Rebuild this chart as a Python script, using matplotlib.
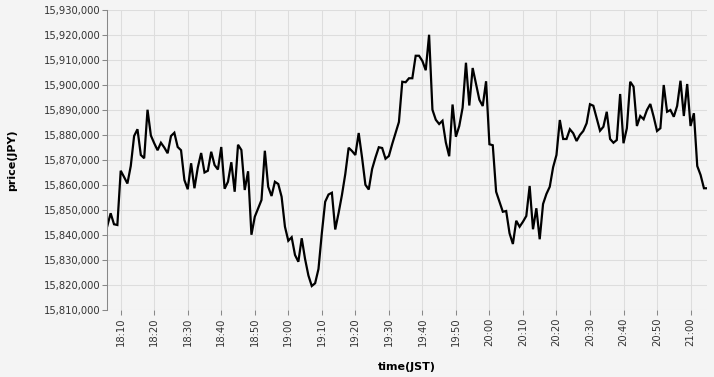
import matplotlib
matplotlib.use('Agg')
import matplotlib.pyplot as plt
import matplotlib.dates as mdates
import matplotlib.ticker as mticker
import pandas as pd

# price per minute in thousand yen (18:06 .. 21:05 JST)
price_k = [
    15843.6, 15848.7, 15844.3, 15844.0, 15865.7, 15863.2, 15860.6, 15867.6, 15879.6, 15882.3,
    15872.0, 15870.7, 15890.1, 15879.8, 15876.7, 15873.9, 15876.9, 15875.0, 15872.7, 15879.6,
    15880.9, 15875.2, 15873.9, 15862.0, 15858.3, 15868.7, 15858.7, 15867.0, 15872.8, 15865.0,
    15865.7, 15873.3, 15868.0, 15866.2, 15875.2, 15858.5, 15861.3, 15869.1, 15857.3, 15876.1,
    15874.0, 15858.0, 15865.5, 15840.1, 15847.3, 15850.7, 15854.0, 15873.7, 15859.3, 15855.6,
    15861.3, 15860.4, 15855.3, 15843.3, 15837.7, 15839.1, 15832.0, 15829.3, 15838.7, 15830.4,
    15823.8, 15819.6, 15820.7, 15826.4, 15840.7, 15853.3, 15856.2, 15856.9, 15842.2, 15848.8,
    15856.0, 15864.4, 15874.9, 15873.6, 15872.0, 15880.8, 15871.0, 15860.1, 15858.2, 15866.4,
    15871.0, 15875.1, 15874.8, 15870.5, 15871.6, 15876.4, 15880.8, 15885.2, 15901.3, 15901.1,
    15902.7, 15902.7, 15911.7, 15911.7, 15909.6, 15905.9, 15920.1, 15890.1, 15886.1, 15884.4,
    15885.7, 15877.0, 15871.5, 15892.2, 15879.3, 15883.6, 15890.9, 15908.9, 15891.8, 15906.8,
    15900.5, 15894.1, 15891.6, 15901.5, 15876.3, 15875.9, 15857.3, 15853.3, 15849.3, 15849.6,
    15840.7, 15836.4, 15845.7, 15843.3, 15845.3, 15847.6, 15859.6, 15842.3, 15850.7, 15838.3,
    15852.4, 15856.4, 15859.3, 15867.1, 15872.0, 15886.0, 15878.4, 15878.4, 15882.3, 15880.7,
    15877.6, 15880.0, 15881.6, 15884.7, 15892.3, 15891.7, 15886.7, 15881.7, 15883.3, 15889.3,
    15878.4, 15876.9, 15878.0, 15896.4, 15876.7, 15882.7, 15901.3, 15899.3, 15883.6, 15887.6,
    15886.3, 15890.0, 15892.4, 15887.3, 15881.6, 15882.7, 15900.0, 15889.3, 15890.0, 15887.3,
    15891.6, 15901.7, 15887.6, 15900.4, 15883.6, 15888.7, 15867.6, 15864.0, 15858.7, 15858.7,
]
prices = [p * 1000 for p in price_k]
times = pd.date_range('2021-01-01 18:06', periods=len(prices), freq='1min')

y_ticks = list(range(15810000, 15930001, 10000))

bg = '#f4f4f4'
grid_c = '#dddddd'
axis_c = '#888888'
text_c = '#333333'

fig = plt.figure(figsize=(7.14, 3.77), dpi=100, facecolor=bg)
ax = fig.add_axes([107.3 / 714, 67 / 377, 600 / 714, 300 / 377], facecolor=bg)

ax.plot(times, prices, color='black', linewidth=1.6, solid_joinstyle='miter')

ax.set_xlim(times[0], times[-1])
ax.set_ylim(y_ticks[0], y_ticks[-1])
ax.set_yticks(y_ticks)
ax.yaxis.set_major_formatter(mticker.FuncFormatter(lambda v, p: f'{int(round(v)):,}'))

ax.xaxis.set_major_locator(mdates.MinuteLocator(byminute=range(0, 60, 10)))
ax.xaxis.set_major_formatter(mdates.DateFormatter('%H:%M'))
plt.setp(ax.get_xticklabels(), rotation=90)

ax.grid(True, color=grid_c, linewidth=0.75)
ax.set_axisbelow(True)
for s in ['top', 'right', 'bottom']:
    ax.spines[s].set_visible(False)
ax.spines['left'].set_color(axis_c)
ax.spines['left'].set_linewidth(0.75)

ax.tick_params(axis='both', colors=axis_c, labelcolor=text_c, labelsize=7.2,
               length=3.6, width=0.75)
ax.tick_params(axis='y', pad=1.5)
ax.tick_params(axis='x', pad=2)

ax.set_xlabel('time(JST)', fontsize=8, fontweight='bold', color='black', labelpad=11)
ax.set_ylabel('price(JPY)', fontsize=8, fontweight='bold', color='black', labelpad=19)

fig.savefig('out.png', dpi=100, facecolor=bg)
